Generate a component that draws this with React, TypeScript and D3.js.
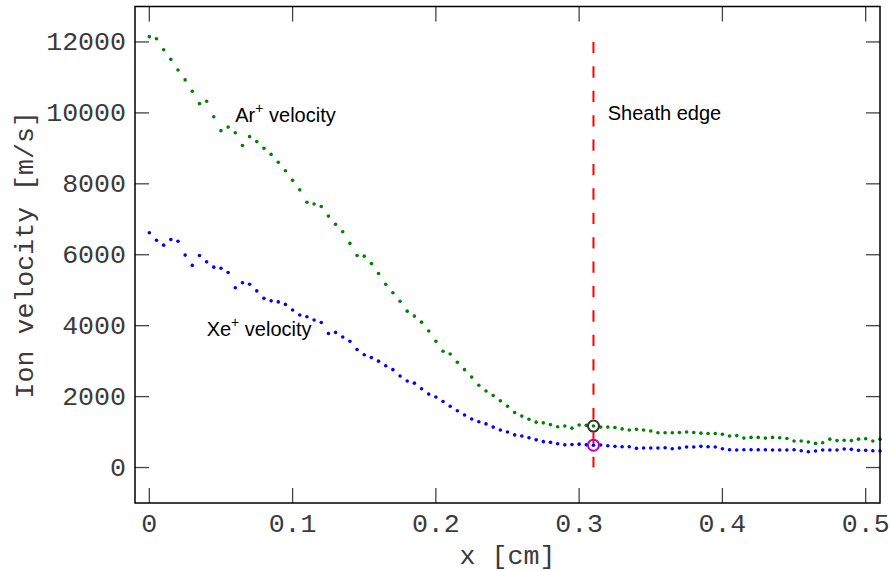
import React from "react";
import * as d3 from "d3";

// ---- data ----
const xTicks = [0, 0.1, 0.2, 0.3, 0.4, 0.5];
const xTickLabels = ["0", "0.1", "0.2", "0.3", "0.4", "0.5"];
const yTicks = [0, 2000, 4000, 6000, 8000, 10000, 12000];
const yTickLabels = ["0", "2000", "4000", "6000", "8000", "10000", "12000"];

const X_STEP = 0.005; // sampling grid spacing [cm]

const arVelocity = [
  12150, 12090, 11780, 11510, 11210, 10930, 10610, 10260, 10330, 9890,
  9500, 9600, 9440, 9080, 9330, 9190, 9000, 8830, 8610, 8370,
  8100, 7830, 7480, 7430, 7360, 7090, 6860, 6650, 6320, 5980,
  5960, 5750, 5470, 5170, 4930, 4690, 4410, 4270, 4100, 3850,
  3560, 3280, 3200, 2970, 2760, 2550, 2320, 2160, 2030, 1880,
  1730, 1550, 1450, 1360, 1280, 1260, 1210, 1150, 1170, 1110,
  1200, 1190, 1170, 1140, 1140, 1130, 1090, 1060, 1080, 1060,
  1030, 980, 980, 980, 990, 1000, 990, 970, 960, 960,
  940, 890, 900, 830, 850, 850, 830, 850, 840, 820,
  750, 750, 720, 680, 700, 800, 760, 770, 760, 800,
  810, 750, 800,
];

const xeVelocity = [
  6620, 6410, 6270, 6430, 6380, 5990, 5700, 5980, 5800, 5650,
  5620, 5500, 5070, 5210, 5170, 4980, 4770, 4700, 4670, 4600,
  4440, 4300, 4250, 4160, 4090, 3780, 3810, 3680, 3560, 3330,
  3180, 3100, 3000, 2870, 2760, 2580, 2440, 2380, 2220, 2070,
  1990, 1860, 1730, 1600, 1480, 1370, 1290, 1230, 1140, 1060,
  1000, 920, 890, 840, 780, 730, 710, 670, 640, 650,
  660, 640, 630, 635, 616, 597, 588, 588, 541, 550,
  550, 550, 560, 531, 550, 578, 578, 597, 588, 578,
  531, 503, 494, 503, 503, 503, 503, 494, 494, 494,
  503, 475, 447, 466, 494, 494, 494, 522, 513, 485,
  485, 475, 466,
];

const sheathX = 0.31;
const sheathIndex = 62;
const sheathLineTop = 12000;
const sheathLineBottom = 0;

const MONO = "'Liberation Mono', 'Courier New', monospace";
const SANS = "'Liberation Sans', Arial, Helvetica, sans-serif";

export default function App() {
  const W = 890;
  const H = 571;
  const left = 135, right = 880, top = 6.5, bottom = 503;
  const x = d3.scaleLinear().domain([-0.01, 0.51]).range([left, right]);
  const y = d3.scaleLinear().domain([-1000, 13000]).range([bottom, top]);

  const ar = arVelocity.map((v, i) => ({ x: i * X_STEP, v }));
  const xe = xeVelocity.map((v, i) => ({ x: i * X_STEP, v }));

  const tickColor = "#444";
  const textColor = "#3a3a3a";
  const fs = 26.6;

  return (
    <svg
      width={W}
      height={H}
      viewBox={`0 0 ${W} ${H}`}
      style={{ position: "absolute", left: 0, top: 0, background: "#fff" }}
    >
      <rect x={0} y={0} width={W} height={H} fill="#fff" />

      {/* ticks */}
      {xTicks.map((t) => (
        <g key={"xt" + t}>
          <line x1={x(t)} x2={x(t)} y1={bottom} y2={bottom - 15} stroke={tickColor} strokeWidth={1.3} />
          <line x1={x(t)} x2={x(t)} y1={top} y2={top + 15} stroke={tickColor} strokeWidth={1.3} />
        </g>
      ))}
      {yTicks.map((t) => (
        <g key={"yt" + t}>
          <line x1={left} x2={left + 14} y1={y(t)} y2={y(t)} stroke={tickColor} strokeWidth={1.3} />
          <line x1={right} x2={right - 14} y1={y(t)} y2={y(t)} stroke={tickColor} strokeWidth={1.3} />
        </g>
      ))}

      {/* sheath edge line */}
      <line
        x1={x(sheathX)}
        x2={x(sheathX)}
        y1={y(sheathLineTop)}
        y2={y(sheathLineBottom)}
        stroke="#ff0000"
        strokeWidth={2}
        strokeDasharray="11.3,13.1"
      />

      {/* data dots */}
      {ar.map((d, i) => (
        <circle key={"ar" + i} cx={x(d.x)} cy={y(d.v)} r={1.8} fill="#008000" />
      ))}
      {xe.map((d, i) => (
        <circle key={"xe" + i} cx={x(d.x)} cy={y(d.v)} r={1.8} fill="#0000ff" />
      ))}

      {/* sheath markers */}
      <circle
        cx={x(sheathIndex * X_STEP)}
        cy={y(arVelocity[sheathIndex])}
        r={5.5}
        fill="none"
        stroke="#333"
        strokeWidth={2}
      />
      <circle
        cx={x(sheathIndex * X_STEP)}
        cy={y(xeVelocity[sheathIndex])}
        r={5.5}
        fill="none"
        stroke="#c000c0"
        strokeWidth={2}
      />

      {/* frame */}
      <rect x={left} y={top} width={right - left} height={bottom - top} fill="none" stroke="#000" strokeWidth={1.5} />

      {/* tick labels */}
      {xTicks.map((t, i) => (
        <text key={"xl" + t} x={x(t)} y={532} textAnchor="middle" fontFamily={MONO} fontSize={fs} fill={textColor}>
          {xTickLabels[i]}
        </text>
      ))}
      {yTicks.map((t, i) => (
        <text key={"yl" + t} x={126} y={y(t) + 8.5} textAnchor="end" fontFamily={MONO} fontSize={fs} fill={textColor}>
          {yTickLabels[i]}
        </text>
      ))}

      {/* axis titles */}
      <text x={(left + right) / 2} y={564} textAnchor="middle" fontFamily={MONO} fontSize={fs} fill={textColor}>
        x [cm]
      </text>
      <text
        transform={`translate(33, ${(top + bottom) / 2}) rotate(-90)`}
        textAnchor="middle"
        fontFamily={MONO}
        fontSize={fs}
        fill={textColor}
      >
        Ion velocity [m/s]
      </text>

      {/* annotations */}
      <text x={x(0.06)} y={y(9750)} fontFamily={SANS} fontSize={20} fill="#000">
        Ar<tspan fontSize={14} dy={-9}>+</tspan>
        <tspan dy={9}> velocity</tspan>
      </text>
      <text x={x(0.04)} y={y(3700)} fontFamily={SANS} fontSize={20} fill="#000">
        Xe<tspan fontSize={14} dy={-9}>+</tspan>
        <tspan dy={9}> velocity</tspan>
      </text>
      <text x={x(0.32)} y={y(9800)} fontFamily={SANS} fontSize={20} fill="#000">
        Sheath edge
      </text>
    </svg>
  );
}
